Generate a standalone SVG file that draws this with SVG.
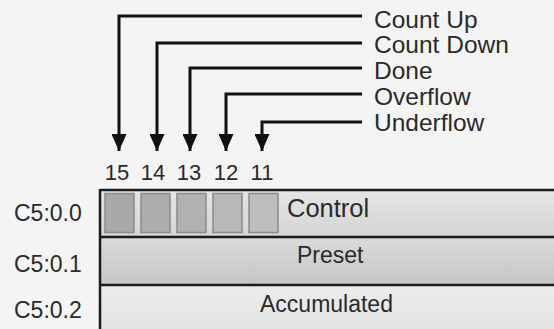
<svg xmlns="http://www.w3.org/2000/svg" width="554" height="329" viewBox="0 0 554 329">
<style>
.t{font-family:"Liberation Sans",Arial,sans-serif;fill:#2a2a2a}
.lbl{font-size:24.5px}
.ctl{font-size:25.5px}
.num{font-size:22px}
.row{font-size:23px}
.c{fill:none;stroke:#111;stroke-width:3}
.bit{stroke:#8a8a8a;stroke-width:1.5}
.div{stroke:#1a1a1a;stroke-width:2.5}
</style>
<defs>
<marker id="ah" markerWidth="17" markerHeight="15" refX="17" refY="7.5" orient="auto" markerUnits="userSpaceOnUse" viewBox="0 0 17 15">
<path d="M0,0 L17,7.5 L0,15 Z" fill="#111"/>
</marker>
<linearGradient id="g1" x1="0" y1="0" x2="0" y2="1"><stop offset="0" stop-color="#e6e6e6"/><stop offset="1" stop-color="#d4d4d4"/></linearGradient>
<linearGradient id="g2" x1="0" y1="0" x2="0" y2="1"><stop offset="0" stop-color="#dadada"/><stop offset="1" stop-color="#c6c6c6"/></linearGradient>
<linearGradient id="g3" x1="0" y1="0" x2="0" y2="1"><stop offset="0" stop-color="#ececec"/><stop offset="1" stop-color="#e2e2e2"/></linearGradient>
</defs>
<rect width="554" height="329" fill="#f4f4f4"/>
<g id="connectors">
<path class="c" d="M362,16 H119 V151" marker-end="url(#ah)"/>
<path class="c" d="M362,43 H157 V151" marker-end="url(#ah)"/>
<path class="c" d="M362,68 H190 V151" marker-end="url(#ah)"/>
<path class="c" d="M362,94 H226 V151" marker-end="url(#ah)"/>
<path class="c" d="M362,122 H262 V151" marker-end="url(#ah)"/>
</g>
<g id="labels">
<text class="t lbl" x="374" y="28">Count Up</text>
<text class="t lbl" x="374" y="53">Count Down</text>
<text class="t lbl" x="374" y="79">Done</text>
<text class="t lbl" x="374" y="105">Overflow</text>
<text class="t lbl" x="374" y="131">Underflow</text>
</g>
<g id="bitnums" class="t num" text-anchor="middle">
<text x="117" y="180">15</text>
<text x="153" y="180">14</text>
<text x="189" y="180">13</text>
<text x="226" y="180">12</text>
<text x="262" y="180">11</text>
</g>
<g id="row0">
<rect x="100" y="190" width="460" height="47" fill="url(#g1)"/>
<rect class="bit" x="105" y="193.5" width="29" height="39" fill="#a9a9a9"/>
<rect class="bit" x="141" y="193.5" width="29" height="39" fill="#adadad"/>
<rect class="bit" x="177" y="193.5" width="29" height="39" fill="#b1b1b1"/>
<rect class="bit" x="213" y="193.5" width="29" height="39" fill="#b8b8b8"/>
<rect class="bit" x="249" y="193.5" width="29" height="39" fill="#bdbdbd"/>
<text class="t ctl" x="287" y="217">Control</text>
<text class="t row" x="14" y="221">C5:0.0</text>
</g>
<g id="row1">
<rect x="100" y="237" width="460" height="48" fill="url(#g2)"/>
<text class="t row" x="297" y="263">Preset</text>
<text class="t row" x="14" y="272">C5:0.1</text>
</g>
<g id="row2">
<rect x="100" y="285" width="460" height="50" fill="url(#g3)"/>
<text class="t row" x="260" y="312">Accumulated</text>
<text class="t row" x="14" y="318">C5:0.2</text>
</g>
<g id="frame">
<path class="div" d="M100,190 H560 M100,237 H560 M100,285 H560 M100,189 V335"/>
</g>
</svg>
